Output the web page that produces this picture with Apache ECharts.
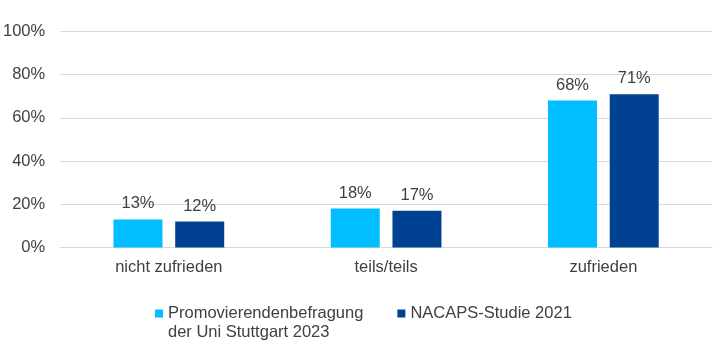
<!DOCTYPE html>
<html>
<head>
<meta charset="utf-8">
<script src="https://cdn.jsdelivr.net/npm/echarts@6/dist/echarts.min.js"></script>
<style>
html,body{margin:0;padding:0;background:#fff;}
#c{width:720px;height:347px;}
</style>
</head>
<body>
<div id="c"></div>
<script>
const categories = ['nicht zufrieden', 'teils/teils', 'zufrieden'];
const seriesNames = ['Promovierendenbefragung\nder Uni Stuttgart 2023', 'NACAPS-Studie 2021'];
const uniStuttgart2023 = [13, 18, 68];
const nacaps2021 = [12, 17, 71];
const yTicks = [0, 20, 40, 60, 80, 100];

const FONT = 'Liberation Sans, Arial, sans-serif';
const TXT = '#404040';
const FS = 16.5;

const chart = echarts.init(document.getElementById('c'));
chart.setOption({
  animation: false,
  textStyle: { fontFamily: FONT },
  grid: { left: 57, right: 8, top: 31.5, bottom: 99.5, containLabel: false },
  xAxis: {
    type: 'category',
    data: categories,
    axisTick: { show: false },
    axisLine: { show: true, lineStyle: { color: '#d9d9d9', width: 1 } },
    axisLabel: { color: TXT, fontSize: FS, fontFamily: FONT, margin: 11 }
  },
  yAxis: {
    type: 'value',
    min: yTicks[0],
    max: yTicks[yTicks.length - 1],
    interval: 20,
    axisLine: { show: false },
    axisTick: { show: false },
    splitLine: { lineStyle: { color: '#d9d9d9', width: 1 } },
    axisLabel: { color: TXT, fontSize: FS, fontFamily: FONT, margin: 15, formatter: v => v + '%' }
  },
  legend: {
    left: 155,
    top: 305,
    padding: 0,
    itemWidth: 8,
    itemHeight: 8,
    itemGap: 34,
    icon: 'rect',
    formatter: name => name.split('\n')[0],
    textStyle: { color: TXT, fontSize: FS, fontFamily: FONT },
    data: seriesNames
  },
  graphic: [{
    type: 'text',
    left: 168,
    top: 324,
    style: { text: seriesNames[0].split('\n')[1], fill: TXT, fontSize: FS, fontFamily: FONT }
  }],
  series: [
    {
      name: seriesNames[0],
      type: 'bar',
      data: uniStuttgart2023,
      barWidth: 49,
      barGap: '26%',
      itemStyle: { color: '#00BEFF' },
      label: { show: true, position: 'top', distance: 7, color: TXT, fontSize: FS, fontFamily: FONT, formatter: p => p.value + '%' }
    },
    {
      name: seriesNames[1],
      type: 'bar',
      data: nacaps2021,
      barWidth: 49,
      barGap: '26%',
      itemStyle: { color: '#004191' },
      label: { show: true, position: 'top', distance: 7, color: TXT, fontSize: FS, fontFamily: FONT, formatter: p => p.value + '%' }
    }
  ]
});
</script>
</body>
</html>
